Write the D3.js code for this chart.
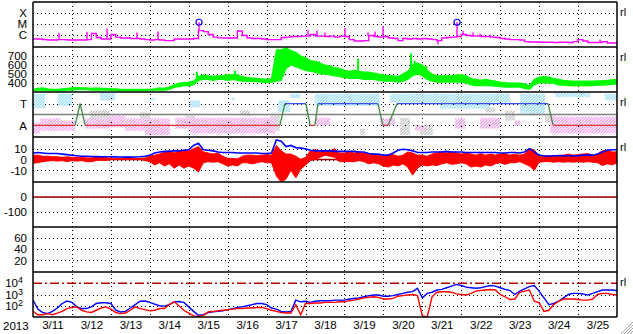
<!DOCTYPE html>
<html><head><meta charset="utf-8">
<script src="https://cdn.jsdelivr.net/npm/d3@7"></script>
<style>html,body{margin:0;padding:0;background:#fff;overflow:hidden}text{font-family:"Liberation Sans",Arial,sans-serif}</style>
</head><body><svg id="c" width="633" height="334"></svg>
<script>
// ---------------- DATA ----------------
const days = ["3/11","3/12","3/13","3/14","3/15","3/16","3/17","3/18","3/19","3/20","3/21","3/22","3/23","3/24","3/25"];
const yearLabel = "2013";
const stepHours = 3; // sample spacing of the series below (from 3/11 00:00)

// GOES X-ray, log10 flux (W/m^2)
const xray = [-6.33,-6.33,-6.38,-6.42,-6.42,-6.38,-6.38,-6.42,-6.42,-6.42,
-6.42,-6.38,-5.84,-6.20,-6.33,-6.33,-5.93,-6.16,-6.24,-6.24,
-6.29,-6.29,-6.33,-6.38,-6.42,-6.38,-6.42,-6.47,-6.47,-6.33,
-6.33,-6.33,-6.33,-6.29,-5.58,-5.67,-5.93,-6.16,-6.23,-6.24,
-6.24,-6.24,-5.62,-6.02,-6.24,-6.29,-6.29,-6.33,-6.38,-6.38,
-6.38,-6.20,-6.16,-6.11,-6.11,-6.07,-6.07,-5.93,-6.07,-6.07,
-6.11,-6.07,-6.16,-6.07,-6.11,-6.38,-6.51,-6.51,-6.47,-6.02,
-6.11,-6.16,-6.11,-6.24,-6.29,-6.47,-6.29,-6.33,-6.29,-6.33,
-6.29,-6.33,-6.38,-6.47,-6.24,-6.20,-6.16,-6.11,-5.93,-6.02,
-6.07,-6.07,-6.11,-6.11,-6.16,-6.20,-6.29,-6.33,-6.38,-6.38,
-6.42,-6.56,-6.60,-6.60,-6.62,-6.62,-6.62,-6.64,-6.62,-6.62,
-6.64,-6.56,-6.38,-6.51,-6.64,-6.64,-6.64,-6.56,-6.69,-6.69,
-6.69];
// short bursts: [day, log10 flux]
const xraySpikes = [[0.668,-5.78],[1.387,-5.69],[1.901,-5.40],[2.671,-5.76],[3.211,-5.67],
[5.266,-5.55],[7.064,-5.55],[7.295,-5.58],[7.501,-5.76],[8.014,-5.34],[8.605,-5.76],
[8.785,-5.67],[8.990,-5.20],[10.40,-6.82],[11.045,-5.62],[11.302,-5.76],[11.482,-5.84],
[11.739,-5.93],[14.565,-6.38]];
// M-class flares: [day, log10 flux]
const flares = [[4.264,-4.84],[10.891,-4.84]];

// solar wind speed (km/s): low / high envelope
const speedLo = [315,320,320,315,315,315,315,320,320,325,
325,325,320,320,320,320,320,315,315,315,
315,315,315,315,315,320,320,320,330,350,
360,370,370,380,430,440,440,430,440,440,
430,440,430,420,420,415,415,410,405,410,
420,430,560,600,580,560,540,530,520,500,
500,490,480,470,460,450,450,450,440,440,
440,430,420,420,420,410,420,440,480,500,
480,440,420,410,410,410,410,410,410,400,
380,370,370,370,370,365,360,355,355,355,
355,340,330,380,400,405,400,395,380,375,
370,370,370,370,370,370,375,375,380,385,
390];
const speedHi = [330,340,345,335,330,330,335,340,345,350,
345,345,340,345,340,340,335,335,330,330,
330,330,330,330,330,335,345,340,355,380,
400,405,410,420,470,490,480,475,480,480,
490,490,490,470,460,455,450,445,440,445,
760,770,790,760,740,700,680,650,640,620,
600,590,570,560,540,530,540,530,520,520,
510,500,490,480,480,470,500,530,600,620,
600,540,500,480,480,480,480,490,490,480,
450,440,430,440,430,420,410,405,400,400,
400,390,370,440,465,470,465,450,440,430,
425,420,420,420,420,420,425,425,430,435,
440];
// isolated speed peaks: [day, km/s]
const speedSpikes = [[4.21,525],[5.19,537],[6.28,780],[7.35,640],[8.35,670],[9.71,730],[9.8,650],[10.1,590]];

// IMF direction clouds: [dayStart, dayEnd, low, high] (T = +1, A = -1)
const towardCloud = [[0,0.31,0.6,1.9],[0.64,1.0,0.8,1.9],[1.72,2.11,1.3,2.0],[3.0,3.13,1.3,1.55],
[4.03,4.29,0.65,1.3],[5.11,5.19,1.3,1.55],[6.29,6.6,0.2,1.3],[6.6,6.86,1.5,1.9],[7.24,8.91,0.8,1.9],
[9.17,10.45,1.1,1.9],[10.45,11.74,0.55,1.9],[11.74,12.25,1.1,1.9],[12.51,13.15,0.1,1.9],
[13.41,14.31,1.6,2.0],[14.69,15,1.3,1.9]];
const awayCloud = [[0,0.18,-1.75,-0.75],[0.18,0.69,-1.5,-0.35],[0.69,1.08,-1.5,-0.55],[1.34,1.98,-1.3,-0.35],
[1.98,2.36,-1.2,-0.1],[2.36,2.88,-1.5,-0.35],[2.88,3.52,-1.9,-0.35],[3.65,4.03,-1.3,-0.3],[4.03,6.22,-1.75,-0.3],
[7.24,7.63,-1.0,-0.3],[8.91,9.3,-1.0,-0.35],[9.81,10.07,-1.5,-1.0],[10.84,11.1,-1.3,-0.35],[11.48,12.0,-1.3,-0.3],
[12.38,12.51,-1.0,-0.55],[13.28,15.0,-1.75,-0.2]];
const mixedCloud = [[0.56,0.69,-0.55,-0.3],[1.46,1.98,-0.37,0.37],[2.75,3.0,-1.0,0.2],[3.9,4.16,-0.55,-0.1],
[5.32,5.57,-0.1,0.37],[6.09,6.34,-1.5,-0.1],[8.4,8.53,-1.9,-1.3],[9.43,9.68,-1.9,-0.3],[9.94,10.27,-1.9,-1.0],
[11.61,11.87,0.2,0.65],[12.12,12.38,-0.55,0.37],[12.77,13.02,-0.1,0.8],[13.15,13.41,-0.75,-0.1]];
// sector polarity
const polarityT = [0,1.08,1.21,1.34,6.34,6.47,7.01,7.12,7.24,7.32,8.86,8.99,9.12,9.35,13.23,13.36,15];
const polarityV = [-1,-1,1,-1,-1,1,1,-1,-1,1,1,-1,-1,1,1,-1,-1];

// IMF Bt (nT)
const bt = [6,6.5,6,5.5,5.5,5.5,5,4.5,4,3.5,
3,3,2.8,2.7,2.6,2.5,2.5,2.4,2.3,2.2,
2.2,2.3,2.5,3,4,6,7,7.5,7.5,8,
8,8.5,9,13,15,9,8.5,8,7,6.5,
6.5,6.5,6,6,6,6,6,5.5,5.5,6,
18,17,12,13,11,10.5,10,8.5,8,8,
8,8,7.5,7.5,7.5,7.5,7.5,7,7,5.5,
5,5,4,4,6,8.5,9.5,9,8,6.5,
6.5,6.5,7,7,7,7.5,7,7,7,6.5,
6.5,6.5,6.5,6.5,6.5,6.5,6,6,6.5,6.5,
6,7,10,7,4,3.5,3,3.5,3.5,3.5,
3.5,3.5,3.5,4,4,4,5,7,8.5,9,
9];
// IMF Bz (nT): low / high envelope
const bzLo = [-3.5,-3,-2,-1.5,-1,-1.5,-1,-2,-1,-1.5,
-1,-2,-2,-1,-0.5,-1,0,0,0,0,
0,0,0,-1,-2,-5,-3,-6,-4,-8,
-5,-8,-6,-8,-11.5,-3,-2,-2.5,-2,-4,
-6,-5,-6,-3,-3,-4,-3,-2,-3,-3,
-15,-21,-18,-10,-17,-9,-5,-1,0,2,
4,3,2,-2,-2,-2,-2,-1,-2,-4,
-3,-4,-6,-7,-5,-6,-4,-7,-14.5,-8,
-5,-6,-5,-5.5,-4,-3,-4.5,-4,-3,-4,
-7,-6,-7,-5,-6,-4,-3,-4.5,-3,-3,
-2,-4,-6,-10,-2.5,-2,-2,-2.5,-2,-2.5,
-2,-2.5,-2,-2.5,-2,-2.5,-3,-5.5,-4,-5,
-3];
const bzHi = [4,4,3,3,2.5,2.5,2,2.5,2,2,
2,1.5,1.5,2,2,1.5,1.5,1,1,1,
1,1,1,1.5,3,4,5,7,8,6,
8,8.5,8,10,12,7,6,5,6,3,
1,1,0.5,3,4,4,3.5,4,4.5,4,
13,8,5,5,3,0,2,8,9,8,
8,8,10,6,6,7,6,7,6,5.5,
5,4,3,4,4.5,3,4,7,6,4,
4,3,5,6,7,6,7,6,5,6,
5,4,5.5,4,5,4,5,5.5,4,5,
4,5,10,9,3,3,3.5,3,4,4,
5,4,4.5,5,5.5,4,5,8,8.6,7,
7];

// electron flux, log10
const eBlue = [2.5,1.7,1.4,1.3,1.5,1.8,2.2,2.42,2.3,1.9,
1.75,1.75,1.9,2.2,2.27,2.27,2.2,1.6,1.45,1.5,
1.8,2.1,2.4,2.42,2.3,2.15,2.0,1.97,2.1,2.35,
2.38,2.3,1.9,1.5,1.15,1.2,1.4,1.47,1.5,1.55,
1.65,1.75,1.85,1.9,2.0,2.1,2.2,2.2,2.1,1.8,
1.7,1.5,1.45,1.5,2.5,2.35,2.4,2.3,2.4,2.45,
2.45,2.45,2.5,2.5,2.5,2.6,2.65,2.7,2.8,2.9,
2.95,2.95,2.85,2.85,2.9,3.0,3.1,3.2,3.25,3.55,
2.7,3.1,3.2,3.4,3.45,3.6,3.75,3.9,3.8,3.65,
3.6,3.55,3.6,3.7,3.8,3.75,3.6,3.45,3.35,3.0,
3.3,3.5,3.7,3.8,3.3,2.7,2.1,2.2,2.4,2.7,
3.0,3.1,3.1,3.05,2.95,3.1,3.25,3.4,3.4,3.4,
3.35];
const eRed = [1.5,1.2,1.2,1.3,1.2,1.35,1.5,1.75,1.85,1.9,
1.6,1.45,1.4,1.6,1.8,1.9,1.7,1.4,1.3,1.35,
1.6,1.9,1.75,1.65,1.55,1.6,1.75,1.75,2.1,2.35,
2.0,1.6,1.35,1.1,1.05,1.15,1.45,1.5,1.55,1.6,
1.65,1.7,1.75,1.75,1.8,1.8,1.85,1.85,1.75,1.6,
1.5,1.4,1.35,1.35,2.1,1.2,2.2,2.2,2.25,2.25,
2.3,2.3,2.3,2.35,2.35,2.45,2.5,2.6,2.7,2.75,
2.8,2.75,2.6,2.6,2.65,2.85,2.9,2.95,3.0,2.9,
1.1,1.0,2.8,3.2,3.25,3.25,3.2,3.05,3.0,2.95,
3.1,3.3,3.35,3.4,3.45,3.4,3.0,2.8,2.55,2.6,
3.2,3.3,3.4,2.4,2.25,1.5,1.6,2.1,2.4,2.6,
2.6,2.6,2.55,2.5,2.5,2.6,3.0,3.1,3.1,3.0,
2.95];

// tick labels
const xrayClassLabels = ["X","M","C"], xrayClassVals = [-4,-5,-6];
const speedTicks = [700,600,500,400];
const polarityLabels = ["T","A"], polarityTickVals = [1,-1];
const bTicks = [10,0,-10];
const dstTicks = [0,-100];
const p6Ticks = [60,40,20];
const eTicks = [4,3,2];
const eThreshold = 4;
const rlPanels = [0,1,2,3,6];

// ---------------- LAYOUT ----------------
const X0 = 33, X1 = 617, PH = 45, FS = 11.5;
const tops = [2,47,92,137,182,227,272];
const svg = d3.select("#c");
const x = d3.scaleLinear().domain([0,15]).range([X0,X1]);
const tAt = i => i*stepHours/24;
const rng = k => [tops[k]+PH, tops[k]];

const yX = d3.scaleLinear().domain([-7.04,-3.04]).range(rng(0));
const yV = d3.scaleLinear().domain([300,800]).range(rng(1));
const yP = d3.scaleLinear().domain([-2.07,2.07]).range(rng(2));
const yB = d3.scaleLinear().domain([-20.8,20.8]).range(rng(3));
const yD = d3.scaleLinear().domain([-196,98]).range(rng(4));
const yK = d3.scaleLinear().domain([-1,80]).range(rng(5));
const yE = d3.scaleLog().domain([10,1e5]).range(rng(6));

const defs = svg.append("defs");
tops.forEach((t,k)=>defs.append("clipPath").attr("id","cp"+k).append("rect")
  .attr("x",X0).attr("y",t).attr("width",X1-X0).attr("height",PH));
function speckle(id,col){
  const p = defs.append("pattern").attr("id",id).attr("patternUnits","userSpaceOnUse").attr("width",3).attr("height",3);
  [[0,0],[1,0],[2,1],[0,1],[1,2],[2,2]].forEach(([a,b])=>p.append("rect").attr("x",a).attr("y",b).attr("width",1).attr("height",1).attr("fill",col));
}
speckle("pT","#a6e2f8"); speckle("pA","#f6b0f2"); speckle("pM","#cccccc");

// dotted grids
const grid = svg.append("g").attr("stroke","#000").attr("stroke-width",1).attr("stroke-dasharray","1,3");
d3.range(1,15).forEach(d=>{
  grid.append("line").attr("x1",Math.round(x(d))+0.5).attr("x2",Math.round(x(d))+0.5)
    .attr("y1",tops[0]).attr("y2",tops[6]+PH);
});
function hgrid(scale, vals){
  vals.forEach(v=>{const y=Math.round(scale(v))+0.5;
    grid.append("line").attr("x1",X0).attr("x2",X1).attr("y1",y).attr("y2",y);});
}
hgrid(yX,xrayClassVals); hgrid(yV,speedTicks); hgrid(yP,polarityTickVals);
hgrid(yB,bTicks); hgrid(yD,dstTicks); hgrid(yK,p6Ticks); hgrid(v=>yE(Math.pow(10,v)),[3,2]);

// ---- panel 1: X-ray
const g1 = svg.append("g").attr("clip-path","url(#cp0)");
g1.append("path").datum(xray).attr("fill","none").attr("stroke","#ff00ff").attr("stroke-width",1.4)
  .attr("d",d3.line().curve(d3.curveStepAfter).x((d,i)=>x(tAt(i))).y(d=>yX(d)));
const interp = (arr,t) => { const f=t*24/stepHours, i=Math.min(Math.floor(f),arr.length-2), r=f-i; return arr[i]*(1-r)+arr[i+1]*r; };
g1.selectAll("line.sp").data(xraySpikes.concat(flares)).join("line").attr("stroke","#ff00ff").attr("stroke-width",1.4)
  .attr("x1",d=>x(d[0])).attr("x2",d=>x(d[0])).attr("y1",d=>yX(interp(xray,d[0]))).attr("y2",d=>yX(d[1]));
g1.selectAll("circle").data(flares).join("circle").attr("cx",d=>x(d[0])).attr("cy",d=>yX(d[1]))
  .attr("r",3).attr("fill","none").attr("stroke","#0000ff").attr("stroke-width",1.2);

// ---- panel 2: speed
const g2 = svg.append("g").attr("clip-path","url(#cp1)");
g2.append("path").datum(speedLo).attr("fill","#00ff00").attr("stroke","#00ff00").attr("stroke-width",1.2)
  .attr("d",d3.area().x((d,i)=>x(tAt(i))).y0(d=>yV(d)).y1((d,i)=>yV(speedHi[i])));
g2.selectAll("line.sp").data(speedSpikes).join("line").attr("stroke","#00ff00").attr("stroke-width",2)
  .attr("x1",d=>x(d[0])).attr("x2",d=>x(d[0])).attr("y1",d=>yV(interp(speedLo,d[0]))).attr("y2",d=>yV(d[1]));

// ---- panel 3: polarity
const g3 = svg.append("g").attr("clip-path","url(#cp2)");
const cloud = (data,pat)=> g3.append("g").attr("fill",`url(#${pat})`).selectAll("rect").data(data).join("rect")
  .attr("x",d=>x(d[0])).attr("width",d=>Math.max(1,x(d[1])-x(d[0])))
  .attr("y",d=>yP(d[3])).attr("height",d=>yP(d[2])-yP(d[3]));
cloud(mixedCloud,"pM"); cloud(towardCloud,"pT"); cloud(awayCloud,"pA");
g3.append("line").attr("x1",X0).attr("x2",X1).attr("y1",yP(0)).attr("y2",yP(0)).attr("stroke","#808080").attr("stroke-width",1.6);
const segs = d3.range(polarityT.length-1).map(i=>[polarityT[i],polarityV[i],polarityT[i+1],polarityV[i+1]]);
g3.selectAll("line.pol").data(segs).join("line")
  .attr("x1",d=>x(d[0])).attr("y1",d=>yP(d[1])).attr("x2",d=>x(d[2])).attr("y2",d=>yP(d[3]))
  .attr("stroke",d=>d[1]!==d[3]?"#3c8a3c":(d[1]>0?"#3a55e6":"#e03030")).attr("stroke-width",1.3);

// ---- panel 4: IMF
const g4 = svg.append("g").attr("clip-path","url(#cp3)");
g4.append("line").attr("x1",X0).attr("x2",X1).attr("y1",yB(0)).attr("y2",yB(0)).attr("stroke","#b00000").attr("stroke-width",1.5);
g4.append("path").datum(bzLo).attr("fill","#ff0000").attr("stroke","#ff0000").attr("stroke-width",1)
  .attr("d",d3.area().x((d,i)=>x(tAt(i))).y0(d=>yB(d)).y1((d,i)=>yB(bzHi[i])));
g4.append("path").datum(bt).attr("fill","none").attr("stroke","#0000ff").attr("stroke-width",1.6)
  .attr("d",d3.line().x((d,i)=>x(tAt(i))).y(d=>yB(d)));

// ---- panel 5
svg.append("line").attr("x1",X0).attr("x2",X1).attr("y1",yD(0)).attr("y2",yD(0)).attr("stroke","#a00000").attr("stroke-width",1.5);

// ---- panel 7: electrons
const g7 = svg.append("g").attr("clip-path","url(#cp6)");
g7.append("line").attr("x1",X0).attr("x2",X1).attr("y1",yE(Math.pow(10,eThreshold))).attr("y2",yE(Math.pow(10,eThreshold)))
  .attr("stroke","#b00000").attr("stroke-width",1.5).attr("stroke-dasharray","9,3,2,3");
[[eBlue,"#0000ff"],[eRed,"#ff0000"]].forEach(([arr,col])=>{
  g7.append("path").datum(arr).attr("fill","none").attr("stroke",col).attr("stroke-width",1.4)
    .attr("d",d3.line().x((d,i)=>x(tAt(i))).y(d=>yE(Math.max(10,Math.pow(10,d)))));
});

// ---- frame
const frame = svg.append("g").attr("stroke","#000").attr("stroke-width",1.5);
tops.concat([tops[6]+PH]).forEach(t=>frame.append("line").attr("x1",X0).attr("x2",X1).attr("y1",t).attr("y2",t));
[X0,X1].forEach(xx=>frame.append("line").attr("x1",xx).attr("x2",xx).attr("y1",tops[0]).attr("y2",tops[6]+PH));

// ---- axes
function leftAxis(scale, vals, fmt){
  const g = svg.append("g").attr("transform",`translate(${X0},0)`)
    .call(d3.axisLeft(scale).tickValues(vals).tickFormat(fmt).tickSize(0).tickPadding(6));
  g.select(".domain").remove();
  g.selectAll("text").attr("font-size",FS).attr("font-family","'Liberation Sans',Arial,sans-serif").attr("fill","#000");
  return g;
}
leftAxis(yX, xrayClassVals, (d,i)=>xrayClassLabels[i]);
leftAxis(yV, speedTicks, d=>d);
leftAxis(yP, polarityTickVals, (d,i)=>polarityLabels[i]);
leftAxis(yB, bTicks, d=>d);
leftAxis(yD, dstTicks, d=>d);
leftAxis(yK, p6Ticks, d=>d);
const ge = leftAxis(yE, eTicks.map(e=>Math.pow(10,e)), d=>"");
ge.selectAll("text").each(function(d){
  const e = Math.round(Math.log10(d)); const t=d3.select(this);
  t.attr("dx","-4");
  t.append("tspan").text("10");
  t.append("tspan").attr("dy","-0.45em").attr("font-size",9).text(e);
});

const gx = svg.append("g").attr("transform",`translate(0,${tops[6]+PH})`)
  .call(d3.axisBottom(x).tickValues(d3.range(15).map(d=>d+0.5)).tickFormat((d,i)=>days[i]).tickSize(0).tickPadding(4));
gx.select(".domain").remove();
gx.selectAll("text").attr("font-size",FS).attr("font-family","'Liberation Sans',Arial,sans-serif").attr("fill","#000");
svg.append("text").attr("x",3).attr("y",330).attr("font-size",FS).text(yearLabel);

// right-side markers
svg.selectAll("text.rl").data(rlPanels).join("text").attr("class","rl")
  .attr("x",X1+3).attr("y",k=>tops[k]+13.5).attr("font-size",11).text("rl");

// resize grip
const grip = svg.append("g").attr("stroke","#a0a0a0").attr("stroke-width",1);
[3,6,9,12].forEach(k=>grip.append("line").attr("x1",633-k).attr("y1",334).attr("x2",633).attr("y2",334-k));
</script></body></html>
